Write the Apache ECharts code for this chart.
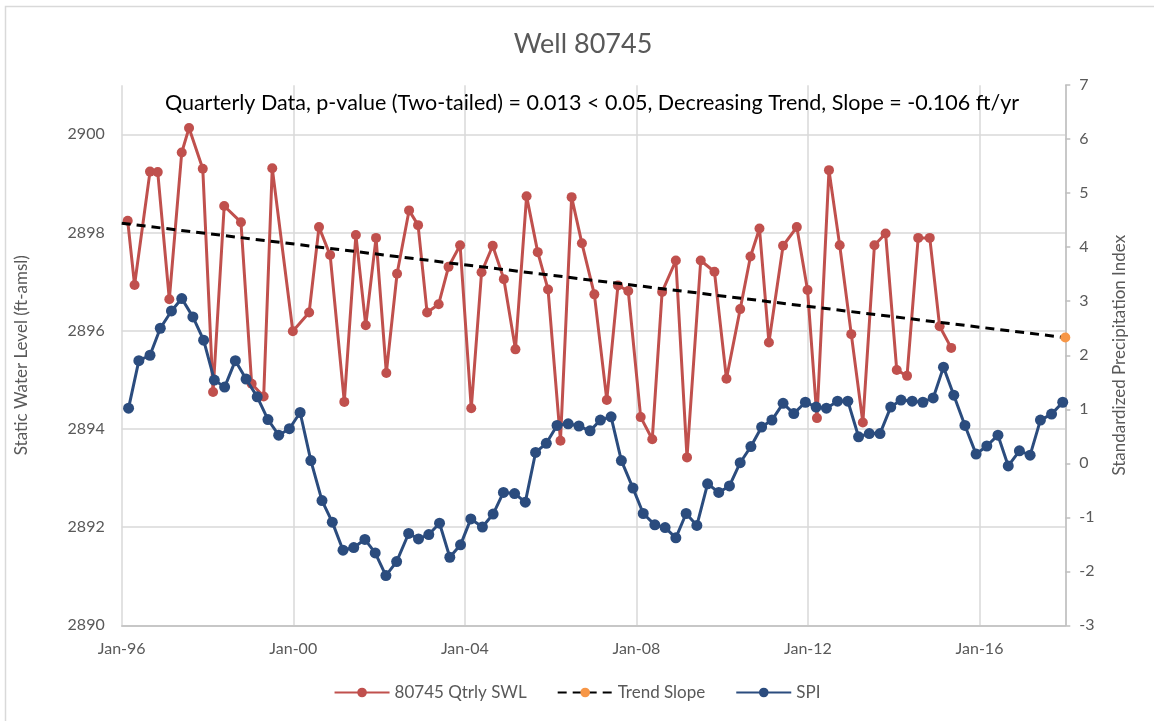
<!DOCTYPE html>
<html>
<head>
<meta charset="utf-8">
<script src="https://cdn.jsdelivr.net/npm/echarts@6/dist/echarts.min.js"></script>
<style>html,body{margin:0;padding:0;background:#fff}#c{width:1154px;height:721px}</style>
</head>
<body>
<div id="c"></div>
<script>
const swlYears = [1996.14,1996.30,1996.66,1996.84,1997.11,1997.40,1997.57,1997.89,1998.13,1998.39,1998.78,1999.03,1999.31,1999.51,1999.99,2000.37,2000.60,2000.86,2001.19,2001.46,2001.69,2001.93,2002.17,2002.42,2002.70,2002.91,2003.12,2003.39,2003.62,2003.89,2004.15,2004.39,2004.65,2004.91,2005.18,2005.44,2005.70,2005.94,2006.23,2006.49,2006.73,2007.02,2007.31,2007.57,2007.81,2008.10,2008.37,2008.60,2008.92,2009.18,2009.50,2009.82,2010.10,2010.42,2010.66,2010.87,2011.09,2011.42,2011.74,2011.99,2012.21,2012.49,2012.74,2013.01,2013.28,2013.55,2013.81,2014.07,2014.31,2014.57,2014.84,2015.07,2015.34];
const swlValues = [2898.24,2896.93,2899.24,2899.23,2896.64,2899.63,2900.13,2899.30,2894.75,2898.54,2898.21,2894.92,2894.66,2899.31,2895.99,2896.37,2898.11,2897.54,2894.55,2897.95,2896.11,2897.89,2895.14,2897.16,2898.45,2898.15,2896.37,2896.54,2897.30,2897.74,2894.42,2897.19,2897.73,2897.05,2895.62,2898.74,2897.60,2896.84,2893.76,2898.72,2897.78,2896.74,2894.59,2896.92,2896.81,2894.24,2893.79,2896.79,2897.43,2893.42,2897.43,2897.20,2895.02,2896.44,2897.51,2898.08,2895.76,2897.73,2898.11,2896.83,2894.22,2899.27,2897.74,2895.93,2894.13,2897.74,2897.98,2895.20,2895.08,2897.89,2897.89,2896.09,2895.65];
const spiYears = [1996.16,1996.40,1996.66,1996.90,1997.16,1997.40,1997.66,1997.91,1998.16,1998.40,1998.65,1998.90,1999.16,1999.41,1999.66,1999.91,2000.16,2000.41,2000.67,2000.91,2001.16,2001.41,2001.67,2001.91,2002.16,2002.41,2002.69,2002.92,2003.16,2003.41,2003.65,2003.90,2004.14,2004.41,2004.66,2004.90,2005.16,2005.41,2005.65,2005.90,2006.15,2006.41,2006.66,2006.92,2007.16,2007.41,2007.65,2007.92,2008.16,2008.43,2008.67,2008.92,2009.16,2009.41,2009.66,2009.92,2010.17,2010.42,2010.67,2010.92,2011.16,2011.42,2011.67,2011.94,2012.19,2012.43,2012.69,2012.93,2013.18,2013.43,2013.68,2013.93,2014.17,2014.43,2014.68,2014.92,2015.16,2015.40,2015.66,2015.92,2016.17,2016.43,2016.67,2016.93,2017.18,2017.42,2017.68,2017.94];
const spiValues = [1.02,1.90,2.00,2.50,2.82,3.05,2.71,2.28,1.54,1.41,1.90,1.56,1.23,0.81,0.52,0.64,0.94,0.05,-0.69,-1.09,-1.61,-1.56,-1.41,-1.66,-2.08,-1.82,-1.30,-1.40,-1.32,-1.11,-1.74,-1.51,-1.03,-1.18,-0.94,-0.54,-0.56,-0.72,0.20,0.37,0.70,0.73,0.69,0.60,0.80,0.86,0.05,-0.46,-0.93,-1.14,-1.19,-1.38,-0.93,-1.15,-0.38,-0.54,-0.42,0.01,0.31,0.67,0.80,1.11,0.92,1.13,1.04,1.02,1.15,1.15,0.49,0.55,0.55,1.04,1.17,1.15,1.13,1.21,1.78,1.26,0.70,0.17,0.32,0.52,-0.05,0.23,0.15,0.80,0.91,1.13];
const trendYears = [1996.0, 2018.0];
const trendValues = [2898.19, 2895.86];

const FONT = 'Lato';
const GRAY = '#595959';
const swlData = swlYears.map((x, i) => [x, swlValues[i]]);
const spiData = spiYears.map((x, i) => [x, spiValues[i]]);
const trendData = trendYears.map((x, i) => i === 0 ? {value: [x, trendValues[i]], symbol: 'none'} : [x, trendValues[i]]);

const chart = echarts.init(document.getElementById('c'), null, {renderer: 'canvas'});
chart.setOption({
  animation: false,
  backgroundColor: '#fff',
  textStyle: {fontFamily: FONT},
  graphic: [{
    type: 'rect', shape: {x: 5.5, y: 6.5, width: 1200, height: 760},
    style: {fill: 'none', stroke: '#d9d9d9', lineWidth: 1.5}, silent: true, z: -10
  }],
  title: [{
    text: 'Well 80745', left: 578, textAlign: 'center', top: 26,
    textStyle: {fontFamily: FONT, fontSize: 27, fontWeight: 'normal', color: GRAY}
  }, {
    text: 'Quarterly Data, p-value (Two-tailed) = 0.013 < 0.05, Decreasing Trend, Slope = -0.106 ft/yr',
    left: 587, textAlign: 'center', top: 87,
    textStyle: {fontFamily: FONT, fontSize: 21.5, fontWeight: 'normal', color: '#000'}
  }],
  grid: {left: 121.7, right: 88.7, top: 85.2, bottom: 95.7, containLabel: false},
  legend: {
    bottom: 15, left: 'center', itemWidth: 55, itemHeight: 12, itemGap: 30,
    textStyle: {fontFamily: FONT, fontSize: 17, color: GRAY},
    data: ['80745 Qtrly SWL', 'Trend Slope', 'SPI']
  },
  xAxis: {
    type: 'value', min: 1996, max: 2018, interval: 4,
    axisLine: {show: true, onZero: false, lineStyle: {color: '#bfbfbf', width: 1.5}},
    axisTick: {show: false},
    axisLabel: {
      showMaxLabel: false, margin: 16, fontSize: 16, color: GRAY, fontFamily: FONT,
      formatter: v => 'Jan-' + String(Math.round(v) % 100).padStart(2, '0')
    },
    splitLine: {show: true, lineStyle: {color: '#d9d9d9', width: 1.5}}
  },
  yAxis: [{
    type: 'value', min: 2890, max: 2901, interval: 2,
    name: 'Static Water Level (ft-amsl)', nameLocation: 'middle', nameGap: 92,
    nameTextStyle: {fontFamily: FONT, fontSize: 17, color: GRAY},
    axisLine: {show: false}, axisTick: {show: false},
    axisLabel: {showMaxLabel: false, margin: 17, fontSize: 16, color: GRAY, fontFamily: FONT, formatter: v => String(v)},
    splitLine: {show: true, lineStyle: {color: ['#d9d9d9','#d9d9d9','#d9d9d9','#d9d9d9','#d9d9d9','#d9d9d9','rgba(0,0,0,0)'], width: 1.5}}
  }, {
    type: 'value', min: -3, max: 7, interval: 1, position: 'right',
    name: 'Standardized Precipitation Index', nameLocation: 'middle', nameGap: 46, nameRotate: 90,
    nameTextStyle: {fontFamily: FONT, fontSize: 17, color: GRAY},
    axisLine: {show: true, onZero: false, lineStyle: {color: '#bfbfbf', width: 1.5}},
    axisTick: {show: true, inside: false, length: 5, lineStyle: {color: '#bfbfbf', width: 1.5}},
    axisLabel: {margin: 14, fontSize: 16, color: GRAY, fontFamily: FONT},
    splitLine: {show: false}
  }],
  series: [{
    name: '80745 Qtrly SWL', type: 'line', yAxisIndex: 0, data: swlData,
    symbol: 'circle', symbolSize: 10, showAllSymbol: true,
    lineStyle: {color: '#C0504D', width: 3}, itemStyle: {color: '#C0504D'}, z: 2
  }, {
    name: 'Trend Slope', type: 'line', yAxisIndex: 0, data: trendData,
    symbol: 'circle', symbolSize: 10,
    lineStyle: {color: '#000', width: 3, type: [9, 6]}, itemStyle: {color: '#F79646'}, z: 3
  }, {
    name: 'SPI', type: 'line', yAxisIndex: 1, data: spiData,
    symbol: 'circle', symbolSize: 11, showAllSymbol: true,
    lineStyle: {color: '#2B4C7E', width: 3}, itemStyle: {color: '#2B4C7E'}, z: 4
  }]
});
</script>
</body>
</html>
